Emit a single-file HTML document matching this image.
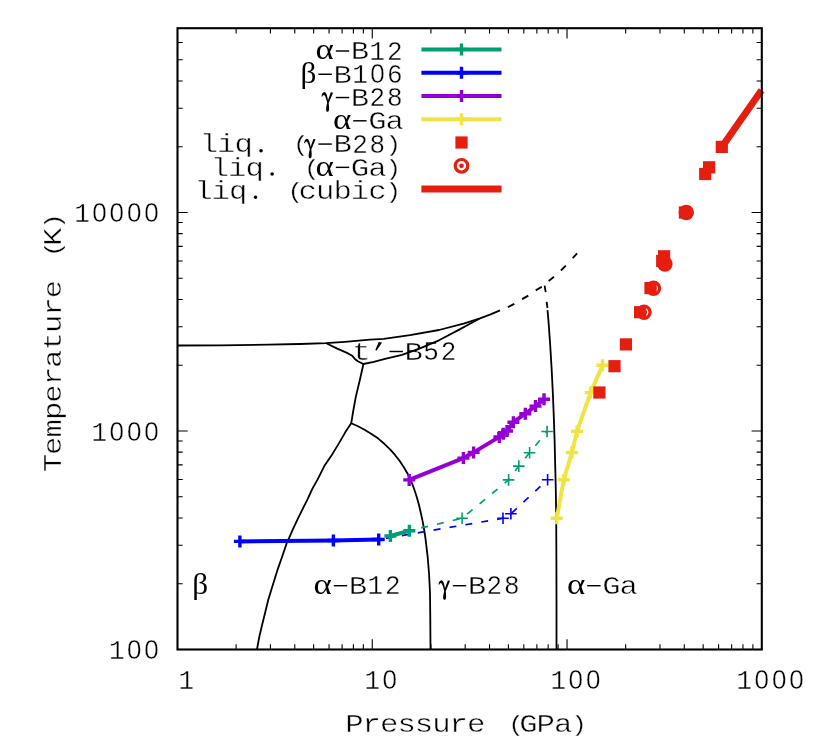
<!DOCTYPE html>
<html><head><meta charset="utf-8"><title>Boron phase diagram</title>
<style>html,body{margin:0;padding:0;background:#fff;}svg{display:block;will-change:transform;}text{font-family:"Liberation Mono",monospace;fill:#000;}.g{font-family:"Liberation Serif",serif;}.z{font-family:"Liberation Sans",sans-serif;}</style></head><body>
<svg width="814" height="743" viewBox="0 0 814 743">
<rect x="0" y="0" width="814" height="743" fill="#ffffff"/>
<text class="g" x="315.60" y="59.30" font-size="29.0" textLength="18.30" lengthAdjust="spacingAndGlyphs">α</text><path d="M335.80 51.00h13.4" stroke="#000" stroke-width="1.45" fill="none"/><text transform="matrix(1.18 0 0 0.965 0 2.076)" x="305.08" y="59.30" font-size="26.0" text-anchor="middle" stroke="#fff" stroke-width="0.45">B</text><text transform="matrix(1.0 0 0 1.05 0 -2.535)" x="377.40 394.80" y="59.30" font-size="26.0" text-anchor="middle" stroke="#fff" stroke-width="0.35">12</text>
<text class="g" x="300.58" y="82.57" font-size="29.0" textLength="15.92" lengthAdjust="spacingAndGlyphs">β</text><path d="M318.40 74.27h13.4" stroke="#000" stroke-width="1.45" fill="none"/><text transform="matrix(1.18 0 0 0.965 0 2.890)" x="290.34" y="82.57" font-size="26.0" text-anchor="middle" stroke="#fff" stroke-width="0.45">B</text><text transform="matrix(1.0 0 0 1.05 0 -3.699)" x="360.00 394.80" y="82.57" font-size="26.0" text-anchor="middle" stroke="#fff" stroke-width="0.35">16</text><text class="z" transform="matrix(1.0 0 0 1.05 0 -3.699)" x="377.40" y="82.57" font-size="26.0" text-anchor="middle" stroke="#fff" stroke-width="0.35">0</text>
<path transform="translate(321.98 105.84) scale(0.06143) translate(-146.5 -390.7)" d="M138 240C143 200 160 168 185 167C212 167 230 215 244 298L290 171L326 177L256 345C263 400 265 440 259 465C252 493 222 493 215 465C209 440 219 390 231 345C222 300 205 238 186 218C172 206 158 220 150 242Z" fill="#000"/><path d="M335.80 97.54h13.4" stroke="#000" stroke-width="1.45" fill="none"/><text transform="matrix(1.18 0 0 0.965 0 3.704)" x="305.08" y="105.84" font-size="26.0" text-anchor="middle" stroke="#fff" stroke-width="0.45">B</text><text transform="matrix(1.0 0 0 1.05 0 -4.862)" x="377.40 394.80" y="105.84" font-size="26.0" text-anchor="middle" stroke="#fff" stroke-width="0.35">28</text>
<text class="g" x="333.00" y="129.11" font-size="29.0" textLength="18.30" lengthAdjust="spacingAndGlyphs">α</text><path d="M353.20 120.81h13.4" stroke="#000" stroke-width="1.45" fill="none"/><text transform="matrix(1.18 0 0 0.965 0 4.519)" x="319.83 334.58" y="129.11" font-size="26.0" text-anchor="middle" stroke="#fff" stroke-width="0.45">Ga</text>
<circle cx="261.08" cy="150.68" r="1.75" fill="#000"/><path transform="translate(304.58 152.38) scale(0.06143) translate(-146.5 -390.7)" d="M138 240C143 200 160 168 185 167C212 167 230 215 244 298L290 171L326 177L256 345C263 400 265 440 259 465C252 493 222 493 215 465C209 440 219 390 231 345C222 300 205 238 186 218C172 206 158 220 150 242Z" fill="#000"/><path d="M318.40 144.08h13.4" stroke="#000" stroke-width="1.45" fill="none"/><text transform="matrix(1.18 0 0 0.965 0 5.333)" x="177.02 191.76 206.51 290.34" y="152.38" font-size="26.0" text-anchor="middle" stroke="#fff" stroke-width="0.45">liqB</text><text transform="matrix(1.0 0 0 1.05 0 -7.189)" x="360.00 377.40" y="152.38" font-size="26.0" text-anchor="middle" stroke="#fff" stroke-width="0.35">28</text><text transform="matrix(1.0 0 0 0.85 0 21.837)" x="300.88 393.30" y="152.38" font-size="26.0" text-anchor="middle" stroke="#fff" stroke-width="0.35">()</text>
<circle cx="272.10" cy="173.95" r="1.75" fill="#000"/><text class="g" x="315.60" y="175.65" font-size="29.0" textLength="18.30" lengthAdjust="spacingAndGlyphs">α</text><path d="M335.80 167.35h13.4" stroke="#000" stroke-width="1.45" fill="none"/><text transform="matrix(1.18 0 0 0.965 0 6.148)" x="186.36 201.10 215.85 305.08 319.83" y="175.65" font-size="26.0" text-anchor="middle" stroke="#fff" stroke-width="0.45">liqGa</text><text transform="matrix(1.0 0 0 0.85 0 25.328)" x="311.90 393.30" y="175.65" font-size="26.0" text-anchor="middle" stroke="#fff" stroke-width="0.35">()</text>
<circle cx="255.60" cy="197.22" r="1.75" fill="#000"/><text transform="matrix(1.18 0 0 0.965 0 6.962)" x="172.37 187.12 201.86 260.85 275.59 290.34 305.08 319.83" y="198.92" font-size="26.0" text-anchor="middle" stroke="#fff" stroke-width="0.45">liqcubic</text><text transform="matrix(1.0 0 0 0.85 0 28.818)" x="295.40 393.30" y="198.92" font-size="26.0" text-anchor="middle" stroke="#fff" stroke-width="0.35">()</text>
<text transform="matrix(1.0 0 0 1.05 0 -32.510)" x="116.80" y="658.80" font-size="26.0" text-anchor="middle" stroke="#fff" stroke-width="0.35">1</text><text class="z" transform="matrix(1.0 0 0 1.05 0 -32.510)" x="134.20 151.60" y="658.80" font-size="26.0" text-anchor="middle" stroke="#fff" stroke-width="0.35">00</text>
<text transform="matrix(1.0 0 0 1.05 0 -21.585)" x="99.40" y="440.30" font-size="26.0" text-anchor="middle" stroke="#fff" stroke-width="0.35">1</text><text class="z" transform="matrix(1.0 0 0 1.05 0 -21.585)" x="116.80 134.20 151.60" y="440.30" font-size="26.0" text-anchor="middle" stroke="#fff" stroke-width="0.35">000</text>
<text transform="matrix(1.0 0 0 1.05 0 -10.660)" x="82.00" y="221.80" font-size="26.0" text-anchor="middle" stroke="#fff" stroke-width="0.35">1</text><text class="z" transform="matrix(1.0 0 0 1.05 0 -10.660)" x="99.40 116.80 134.20 151.60" y="221.80" font-size="26.0" text-anchor="middle" stroke="#fff" stroke-width="0.35">0000</text>
<text transform="matrix(1.0 0 0 1.05 0 -34.020)" x="186.20" y="689.00" font-size="26.0" text-anchor="middle" stroke="#fff" stroke-width="0.35">1</text>
<text transform="matrix(1.0 0 0 1.05 0 -34.020)" x="372.27" y="689.00" font-size="26.0" text-anchor="middle" stroke="#fff" stroke-width="0.35">1</text><text class="z" transform="matrix(1.0 0 0 1.05 0 -34.020)" x="389.67" y="689.00" font-size="26.0" text-anchor="middle" stroke="#fff" stroke-width="0.35">0</text>
<text transform="matrix(1.0 0 0 1.05 0 -34.020)" x="558.33" y="689.00" font-size="26.0" text-anchor="middle" stroke="#fff" stroke-width="0.35">1</text><text class="z" transform="matrix(1.0 0 0 1.05 0 -34.020)" x="575.73 593.13" y="689.00" font-size="26.0" text-anchor="middle" stroke="#fff" stroke-width="0.35">00</text>
<text transform="matrix(1.0 0 0 1.05 0 -34.020)" x="744.40" y="689.00" font-size="26.0" text-anchor="middle" stroke="#fff" stroke-width="0.35">1</text><text class="z" transform="matrix(1.0 0 0 1.05 0 -34.020)" x="761.80 779.20 796.60" y="689.00" font-size="26.0" text-anchor="middle" stroke="#fff" stroke-width="0.35">000</text>
<text transform="matrix(1.18 0 0 0.965 0 25.638)" x="300.34 315.08 329.83 344.58 359.32 374.07 388.81 403.56 447.80 462.54 477.29" y="732.50" font-size="26.0" text-anchor="middle" stroke="#fff" stroke-width="0.45">PressureGPa</text><text transform="matrix(1.0 0 0 0.85 0 108.855)" x="516.00 579.10" y="732.50" font-size="26.0" text-anchor="middle" stroke="#fff" stroke-width="0.35">()</text>
<g transform="translate(61.3 471.80) rotate(-90)"><text transform="matrix(1.18 0 0 0.965 0 0.000)" x="7.37 22.12 36.86 51.61 66.36 81.10 95.85 110.59 125.34 140.08 154.83 199.07" y="0.00" font-size="26.0" text-anchor="middle" stroke="#fff" stroke-width="0.45">TemperatureK</text><text transform="matrix(1.0 0 0 0.85 0 -1.020)" x="222.50 250.80" y="0.00" font-size="26.0" text-anchor="middle" stroke="#fff" stroke-width="0.35">()</text></g>
<text class="g" x="192.30" y="593.50" font-size="29.0" textLength="15.92" lengthAdjust="spacingAndGlyphs">β</text>
<text class="g" x="313.60" y="594.00" font-size="29.0" textLength="18.30" lengthAdjust="spacingAndGlyphs">α</text><path d="M333.80 585.70h13.4" stroke="#000" stroke-width="1.45" fill="none"/><text transform="matrix(1.18 0 0 0.965 0 20.790)" x="303.39" y="594.00" font-size="26.0" text-anchor="middle" stroke="#fff" stroke-width="0.45">B</text><text transform="matrix(1.0 0 0 1.05 0 -29.270)" x="375.40 392.80" y="594.00" font-size="26.0" text-anchor="middle" stroke="#fff" stroke-width="0.35">12</text>
<path transform="translate(439.00 594.00) scale(0.06143) translate(-146.5 -390.7)" d="M138 240C143 200 160 168 185 167C212 167 230 215 244 298L290 171L326 177L256 345C263 400 265 440 259 465C252 493 222 493 215 465C209 440 219 390 231 345C222 300 205 238 186 218C172 206 158 220 150 242Z" fill="#000"/><path d="M452.82 585.70h13.4" stroke="#000" stroke-width="1.45" fill="none"/><text transform="matrix(1.18 0 0 0.965 0 20.790)" x="404.25" y="594.00" font-size="26.0" text-anchor="middle" stroke="#fff" stroke-width="0.45">B</text><text transform="matrix(1.0 0 0 1.05 0 -29.270)" x="494.42 511.82" y="594.00" font-size="26.0" text-anchor="middle" stroke="#fff" stroke-width="0.35">28</text>
<text class="g" x="567.00" y="594.00" font-size="29.0" textLength="18.30" lengthAdjust="spacingAndGlyphs">α</text><path d="M587.20 585.70h13.4" stroke="#000" stroke-width="1.45" fill="none"/><text transform="matrix(1.18 0 0 0.965 0 20.790)" x="518.13 532.88" y="594.00" font-size="26.0" text-anchor="middle" stroke="#fff" stroke-width="0.45">Ga</text>
<path d="M378.70 342.00L382.10 342.60L376.40 350.70L375.30 350.10Z" fill="#000"/><path d="M389.50 351.50h13.4" stroke="#000" stroke-width="1.45" fill="none"/><text transform="matrix(1.18 0 0 0.965 0 12.593)" x="306.36 350.59" y="359.80" font-size="26.0" text-anchor="middle" stroke="#fff" stroke-width="0.45">tB</text><text transform="matrix(1.0 0 0 1.05 0 -17.560)" x="431.10 448.50" y="359.80" font-size="26.0" text-anchor="middle" stroke="#fff" stroke-width="0.35">52</text>
<path d="M236.13 649.50v-5.2M236.13 28.20v5.2M270.43 649.50v-5.2M270.43 28.20v5.2M294.76 649.50v-5.2M294.76 28.20v5.2M313.64 649.50v-5.2M313.64 28.20v5.2M329.06 649.50v-5.2M329.06 28.20v5.2M342.10 649.50v-5.2M342.10 28.20v5.2M353.39 649.50v-5.2M353.39 28.20v5.2M363.35 649.50v-5.2M363.35 28.20v5.2M372.27 649.50v-10.2M372.27 28.20v10.2M430.90 649.50v-5.2M430.90 28.20v5.2M465.19 649.50v-5.2M465.19 28.20v5.2M489.53 649.50v-5.2M489.53 28.20v5.2M508.40 649.50v-5.2M508.40 28.20v5.2M523.82 649.50v-5.2M523.82 28.20v5.2M536.86 649.50v-5.2M536.86 28.20v5.2M548.16 649.50v-5.2M548.16 28.20v5.2M558.12 649.50v-5.2M558.12 28.20v5.2M567.03 649.50v-10.2M567.03 28.20v10.2M625.66 649.50v-5.2M625.66 28.20v5.2M659.96 649.50v-5.2M659.96 28.20v5.2M684.29 649.50v-5.2M684.29 28.20v5.2M703.17 649.50v-5.2M703.17 28.20v5.2M718.59 649.50v-5.2M718.59 28.20v5.2M731.63 649.50v-5.2M731.63 28.20v5.2M742.93 649.50v-5.2M742.93 28.20v5.2M752.89 649.50v-5.2M752.89 28.20v5.2M177.50 583.72h5.2M761.80 583.72h-5.2M177.50 545.25h5.2M761.80 545.25h-5.2M177.50 517.95h5.2M761.80 517.95h-5.2M177.50 496.78h5.2M761.80 496.78h-5.2M177.50 479.47h5.2M761.80 479.47h-5.2M177.50 464.85h5.2M761.80 464.85h-5.2M177.50 452.17h5.2M761.80 452.17h-5.2M177.50 441.00h5.2M761.80 441.00h-5.2M177.50 431.00h10.2M761.80 431.00h-10.2M177.50 365.22h5.2M761.80 365.22h-5.2M177.50 326.75h5.2M761.80 326.75h-5.2M177.50 299.45h5.2M761.80 299.45h-5.2M177.50 278.28h5.2M761.80 278.28h-5.2M177.50 260.97h5.2M761.80 260.97h-5.2M177.50 246.35h5.2M761.80 246.35h-5.2M177.50 233.67h5.2M761.80 233.67h-5.2M177.50 222.50h5.2M761.80 222.50h-5.2M177.50 212.50h10.2M761.80 212.50h-10.2M177.50 146.72h5.2M761.80 146.72h-5.2M177.50 108.25h5.2M761.80 108.25h-5.2M177.50 80.95h5.2M761.80 80.95h-5.2M177.50 59.78h5.2M761.80 59.78h-5.2M177.50 42.47h5.2M761.80 42.47h-5.2" stroke="#000" stroke-width="1.1" fill="none"/>
<path d="M177.5 345.5 L220.0 345.3 L268.0 344.7 L300.0 344.0 L326.0 343.2 L345.0 341.8 L370.0 339.6 L383.7 338.8 L410.0 335.2 L439.0 330.0 L463.6 323.6 L479.3 318.6 L490.0 314.6 L500.0 310.4" stroke="#000" stroke-width="1.8" fill="none" stroke-linejoin="round"/>
<path d="M326.3 343.3 L336.7 348.4 L347.0 352.9 L352.1 355.7 L354.6 358.7 L357.8 361.2 L363.4 364.0 L373.8 361.9 L385.0 358.9 L402.0 354.9 L420.0 348.4 L439.0 340.3 L459.7 329.4 L470.0 323.8 L479.3 318.6" stroke="#000" stroke-width="1.8" fill="none" stroke-linejoin="round"/>
<path d="M363.4 364.0 L359.9 379.8 L355.9 396.4 L353.4 410.0 L351.2 423.3" stroke="#000" stroke-width="1.8" fill="none" stroke-linejoin="round"/>
<path d="M351.2 423.2 L345.4 432.1 L338.9 443.4 L332.5 453.9 L324.8 465.2 L317.4 479.9 L312.3 488.9 L307.5 499.4 L302.6 509.1 L297.4 519.6 L292.5 530.1 L288.5 539.4 L286.7 543.2 L282.2 556.5 L277.5 569.9 L272.8 585.0 L268.2 600.0 L265.0 613.2 L262.2 624.5 L259.7 635.0 L258.2 642.5 L257.0 649.5" stroke="#000" stroke-width="1.8" fill="none" stroke-linejoin="round"/>
<path d="M351.2 423.3 L358.0 426.3 L364.5 429.7 L371.5 434.0 L378.3 438.6 L384.3 443.8 L390.1 449.4 L395.2 455.2 L399.9 461.2 L404.0 467.5 L407.8 474.0 L410.9 480.7 L413.7 487.7 L416.3 495.5 L418.6 503.5 L420.7 512.3 L422.6 521.1 L424.2 530.0 L425.5 538.6 L427.6 556.3 L429.1 574.5 L430.0 592.7 L430.3 620.0 L430.5 649.5" stroke="#000" stroke-width="1.8" fill="none" stroke-linejoin="round"/>
<path d="M547.5 310.1 L548.4 320.0 L550.2 345.0 L551.6 368.4 L552.8 392.0 L553.8 416.9 L554.6 440.0 L555.2 465.3 L555.8 490.0 L556.2 515.0 L556.4 560.0 L556.5 600.0 L556.5 649.5" stroke="#000" stroke-width="1.8" fill="none" stroke-linejoin="round"/>
<path d="M507.8 307.2L514.3 303.9M522.1 299.1L528.3 295.6M535.7 290.4L541.8 286.8M548.7 281.0L554.0 276.8M560.9 270.5L565.8 265.6M572.7 258.1L577.2 253.4M544.6 285.7L545.7 292.2M546.6 301.9L547.5 308.0" stroke="#000" stroke-width="1.8" fill="none"/>
<path d="M378.7 539.5 L503.0 518.3 L510.9 513.8 L547.6 479.8" stroke="#0000FF" stroke-width="1.7" fill="none" stroke-dasharray="7 9.1" stroke-dashoffset="8.7"/>
<path d="M409.4 530.7 L462.1 518.3 L508.6 479.9 L518.8 466.1 L529.6 452.7 L547.1 431.5" stroke="#009E73" stroke-width="1.7" fill="none" stroke-dasharray="7 9.2" stroke-dashoffset="4.1"/>
<path d="M456.3 518.3h11.6M462.1 512.5v11.6" stroke="#009E73" stroke-width="1.6" fill="none"/>
<path d="M502.8 479.9h11.6M508.6 474.1v11.6" stroke="#009E73" stroke-width="1.6" fill="none"/>
<path d="M513.0 466.1h11.6M518.8 460.3v11.6" stroke="#009E73" stroke-width="1.6" fill="none"/>
<path d="M523.8 452.7h11.6M529.6 446.9v11.6" stroke="#009E73" stroke-width="1.6" fill="none"/>
<path d="M541.3 431.5h11.6M547.1 425.7v11.6" stroke="#009E73" stroke-width="1.6" fill="none"/>
<path d="M497.2 518.3h11.6M503.0 512.5v11.6" stroke="#0000FF" stroke-width="1.6" fill="none"/>
<path d="M505.1 513.8h11.6M510.9 508.0v11.6" stroke="#0000FF" stroke-width="1.6" fill="none"/>
<path d="M541.8 479.8h11.6M547.6 474.0v11.6" stroke="#0000FF" stroke-width="1.6" fill="none"/>
<path d="M239.9 541.4 L333.4 540.5 L378.7 539.5" stroke="#0000FF" stroke-width="4.0" fill="none"/>
<path d="M233.9 541.4h12.0M239.9 535.4v12.0" stroke="#0000FF" stroke-width="3.4" fill="none"/>
<path d="M327.4 540.5h12.0M333.4 534.5v12.0" stroke="#0000FF" stroke-width="3.4" fill="none"/>
<path d="M372.7 539.5h12.0M378.7 533.5v12.0" stroke="#0000FF" stroke-width="3.4" fill="none"/>
<path d="M390.4 536.0 L409.4 530.7" stroke="#009E73" stroke-width="4.0" fill="none"/>
<path d="M384.4 536.0h12.0M390.4 530.0v12.0" stroke="#009E73" stroke-width="3.4" fill="none"/>
<path d="M403.4 530.7h12.0M409.4 524.7v12.0" stroke="#009E73" stroke-width="3.4" fill="none"/>
<path d="M409.2 479.9 L463.4 458.1 L473.6 452.4 L499.4 436.9 L503.2 433.8 L507.0 431.0 L513.4 422.2 L525.3 413.7 L535.5 406.1 L544.0 399.2" stroke="#9400D3" stroke-width="4.0" fill="none" stroke-linejoin="round"/>
<path d="M403.2 479.9h12.0M409.2 473.9v12.0" stroke="#9400D3" stroke-width="3.4" fill="none"/>
<path d="M457.4 458.1h12.0M463.4 452.1v12.0" stroke="#9400D3" stroke-width="3.4" fill="none"/>
<path d="M467.6 452.4h12.0M473.6 446.4v12.0" stroke="#9400D3" stroke-width="3.4" fill="none"/>
<path d="M493.4 436.9h12.0M499.4 430.9v12.0" stroke="#9400D3" stroke-width="3.4" fill="none"/>
<path d="M497.2 433.8h12.0M503.2 427.8v12.0" stroke="#9400D3" stroke-width="3.4" fill="none"/>
<path d="M501.0 431.0h12.0M507.0 425.0v12.0" stroke="#9400D3" stroke-width="3.4" fill="none"/>
<path d="M507.4 422.2h12.0M513.4 416.2v12.0" stroke="#9400D3" stroke-width="3.4" fill="none"/>
<path d="M519.3 413.7h12.0M525.3 407.7v12.0" stroke="#9400D3" stroke-width="3.4" fill="none"/>
<path d="M529.5 406.1h12.0M535.5 400.1v12.0" stroke="#9400D3" stroke-width="3.4" fill="none"/>
<path d="M538.0 399.2h12.0M544.0 393.2v12.0" stroke="#9400D3" stroke-width="3.4" fill="none"/>
<path d="M556.8 518.2 L563.8 479.7 L571.9 452.5 L577.0 431.4 L590.6 392.6 L602.5 365.2" stroke="#F0E442" stroke-width="4.0" fill="none" stroke-linejoin="round"/>
<path d="M550.8 518.2h12.0M556.8 512.2v12.0" stroke="#F0E442" stroke-width="3.4" fill="none"/>
<path d="M557.8 479.7h12.0M563.8 473.7v12.0" stroke="#F0E442" stroke-width="3.4" fill="none"/>
<path d="M565.9 452.5h12.0M571.9 446.5v12.0" stroke="#F0E442" stroke-width="3.4" fill="none"/>
<path d="M571.0 431.4h12.0M577.0 425.4v12.0" stroke="#F0E442" stroke-width="3.4" fill="none"/>
<path d="M584.6 392.6h12.0M590.6 386.6v12.0" stroke="#F0E442" stroke-width="3.4" fill="none"/>
<path d="M596.5 365.2h12.0M602.5 359.2v12.0" stroke="#F0E442" stroke-width="3.4" fill="none"/>
<rect x="593.3" y="386.4" width="12.2" height="12.2" fill="#E51E10"/>
<rect x="608.4" y="360.1" width="12.2" height="12.2" fill="#E51E10"/>
<rect x="619.8" y="338.3" width="12.2" height="12.2" fill="#E51E10"/>
<rect x="634.0" y="306.1" width="12.2" height="12.2" fill="#E51E10"/>
<rect x="644.4" y="282.0" width="12.2" height="12.2" fill="#E51E10"/>
<rect x="658.0" y="250.2" width="12.2" height="12.2" fill="#E51E10"/>
<rect x="656.1" y="254.8" width="12.2" height="12.2" fill="#E51E10"/>
<rect x="678.8" y="206.4" width="12.2" height="12.2" fill="#E51E10"/>
<rect x="699.1" y="167.9" width="12.2" height="12.2" fill="#E51E10"/>
<rect x="703.0" y="161.2" width="12.2" height="12.2" fill="#E51E10"/>
<rect x="715.7" y="140.8" width="12.2" height="12.2" fill="#E51E10"/>
<circle cx="644.0" cy="312.2" r="6.05" fill="none" stroke="#E51E10" stroke-width="3.3"/><circle cx="644.0" cy="312.2" r="3.0" fill="#E51E10"/>
<circle cx="653.5" cy="288.3" r="6.05" fill="none" stroke="#E51E10" stroke-width="3.3"/><circle cx="653.5" cy="288.3" r="3.0" fill="#E51E10"/>
<circle cx="664.9" cy="264.0" r="7.7" fill="#E51E10"/>
<circle cx="686.3" cy="212.5" r="7.7" fill="#E51E10"/>
<path d="M721.8 146.9L761.6 90.2" stroke="#E51E10" stroke-width="7" fill="none"/>
<rect x="177.5" y="28.2" width="584.30" height="621.30" fill="none" stroke="#000" stroke-width="2.1"/>
<path d="M421.4 49.4H501.5" stroke="#009E73" stroke-width="4.0" fill="none"/>
<path d="M455.5 49.4h12.0M461.5 43.4v12.0" stroke="#009E73" stroke-width="3.4" fill="none"/>
<path d="M421.4 72.7H501.5" stroke="#0000FF" stroke-width="4.0" fill="none"/>
<path d="M455.5 72.7h12.0M461.5 66.7v12.0" stroke="#0000FF" stroke-width="3.4" fill="none"/>
<path d="M421.4 95.9H501.5" stroke="#9400D3" stroke-width="4.0" fill="none"/>
<path d="M455.5 95.9h12.0M461.5 89.9v12.0" stroke="#9400D3" stroke-width="3.4" fill="none"/>
<path d="M421.4 119.2H501.5" stroke="#F0E442" stroke-width="4.0" fill="none"/>
<path d="M455.5 119.2h12.0M461.5 113.2v12.0" stroke="#F0E442" stroke-width="3.4" fill="none"/>
<rect x="455.4" y="136.4" width="12.2" height="12.2" fill="#E51E10"/>
<circle cx="461.5" cy="165.8" r="6.3" fill="none" stroke="#E51E10" stroke-width="3.2"/><circle cx="461.5" cy="165.8" r="2.4" fill="#E51E10"/>
<path d="M421.4 189.0H501.5" stroke="#E51E10" stroke-width="7" fill="none"/>
</svg></body></html>
